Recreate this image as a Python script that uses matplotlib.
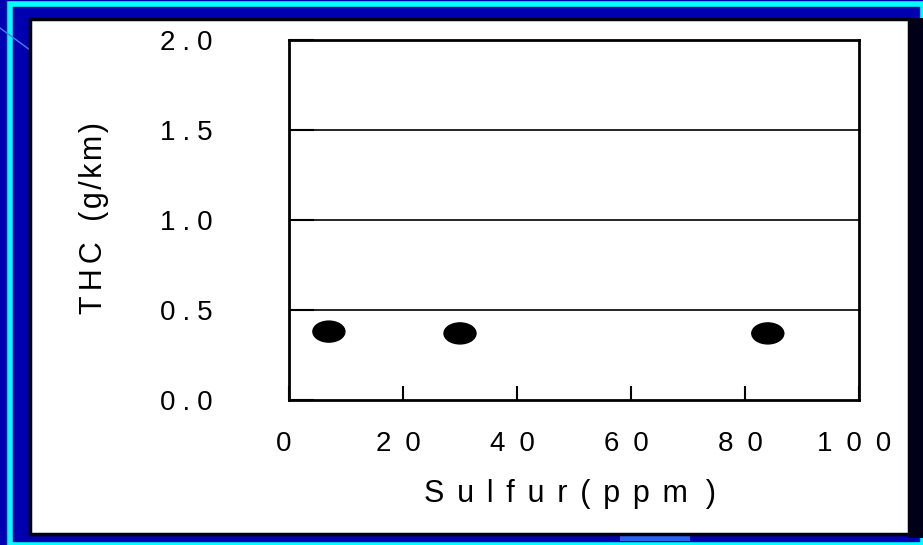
import matplotlib
matplotlib.use("Agg")
import matplotlib.pyplot as plt
import matplotlib.transforms as mtransforms
from matplotlib.patches import Rectangle, Ellipse
from matplotlib.lines import Line2D

plt.rcParams['font.family'] = ['Liberation Sans', 'DejaVu Sans']

# data
sulfur = [7, 30, 84]
thc = [0.38, 0.37, 0.37]
xticks = [0, 20, 40, 60, 80, 100]
yticks = [0.0, 0.5, 1.0, 1.5, 2.0]

W, H = 923, 545
EN = "\u2002"            # wide letter spacing (x ticks)
NARROW = "\u2005"        # narrower letter spacing (y ticks)
MID = "\u2005\u2006"     # x label spacing
SIXTH = "\u2006"
HAIR = "\u200a"


def spaced(s, sep):
    return sep.join(s)


def px(x0, y0, w, h):
    # pixel box (top-left origin) -> figure fraction
    return (x0 / W, 1 - (y0 + h) / H, w / W, h / H)


fig = plt.figure(figsize=(W / 100, H / 100), dpi=100)
fig.patch.set_facecolor('#0000b0')

# slide decorations, kept behind the axes
x, y, w, h = px(10, 4, 913, 541)
fig.add_artist(Rectangle((x, y), w, h, transform=fig.transFigure, zorder=-5,
                         facecolor='none', edgecolor='#00ffff', linewidth=4))
x, y, w, h = px(620, 533, 70, 8)
fig.add_artist(Rectangle((x, y), w, h, transform=fig.transFigure, zorder=-5,
                         facecolor='#3060f0', edgecolor='none'))
fig.add_artist(Line2D([0, 30 / W], [1 - 28 / H, 1 - 50 / H], transform=fig.transFigure,
                      color='#4080ff', linewidth=1, zorder=-5))
x, y, w, h = px(908, 18, 15, 520)
fig.add_artist(Rectangle((x, y), w, h, transform=fig.transFigure, zorder=-5,
                         facecolor='#000018', edgecolor='none'))
x, y, w, h = px(30, 19, 879, 515)
fig.add_artist(Rectangle((x, y), w, h, transform=fig.transFigure, zorder=-4,
                         facecolor='white', edgecolor='#000010', linewidth=2.5))

ax = fig.add_axes(px(289, 40, 570, 360))
ax.set_xlim(0, 100)
ax.set_ylim(0, 2.0)
ax.set_facecolor('white')

for v in yticks[1:-1]:
    ax.axhline(v, color='black', linewidth=1.2)

# elliptical markers, sized in pixels
xpp = 100 / 570
ypp = 2.0 / 360
for sx, ty in zip(sulfur, thc):
    ax.add_patch(Ellipse((sx, ty), 32 * xpp, 21 * ypp, facecolor='black', edgecolor='black'))

for s in ax.spines.values():
    s.set_linewidth(2)

ax.set_xticks(xticks)
ax.set_yticks(yticks)
ax.set_xticklabels([spaced(str(t), EN) for t in xticks], fontsize=20)
ax.set_yticklabels([spaced(f"{t:.1f}", NARROW) for t in yticks], fontsize=20)
ax.tick_params(axis='x', direction='in', length=10, width=1.5, pad=22)
ax.tick_params(axis='y', direction='in', length=18, width=1.5, pad=55)

# x tick labels sit a few pixels left of their ticks in the original
shift = mtransforms.ScaledTranslation(-5 / 100, 0, fig.dpi_scale_trans)
for lbl in ax.get_xticklabels():
    lbl.set_transform(lbl.get_transform() + shift)

xlab = spaced("Sulfur(ppm", MID) + MID + SIXTH + ")"
ax.set_xlabel(xlab, fontsize=22, va='center')
ax.xaxis.set_label_coords(0.493, -0.262)
ylab = spaced("THC", SIXTH) + EN + SIXTH + spaced("(g/km)", HAIR)
ax.set_ylabel(ylab, fontsize=22, va='center')
ax.yaxis.set_label_coords(-0.342, 0.506)

fig.savefig("out.png", dpi=100, facecolor=fig.get_facecolor())
